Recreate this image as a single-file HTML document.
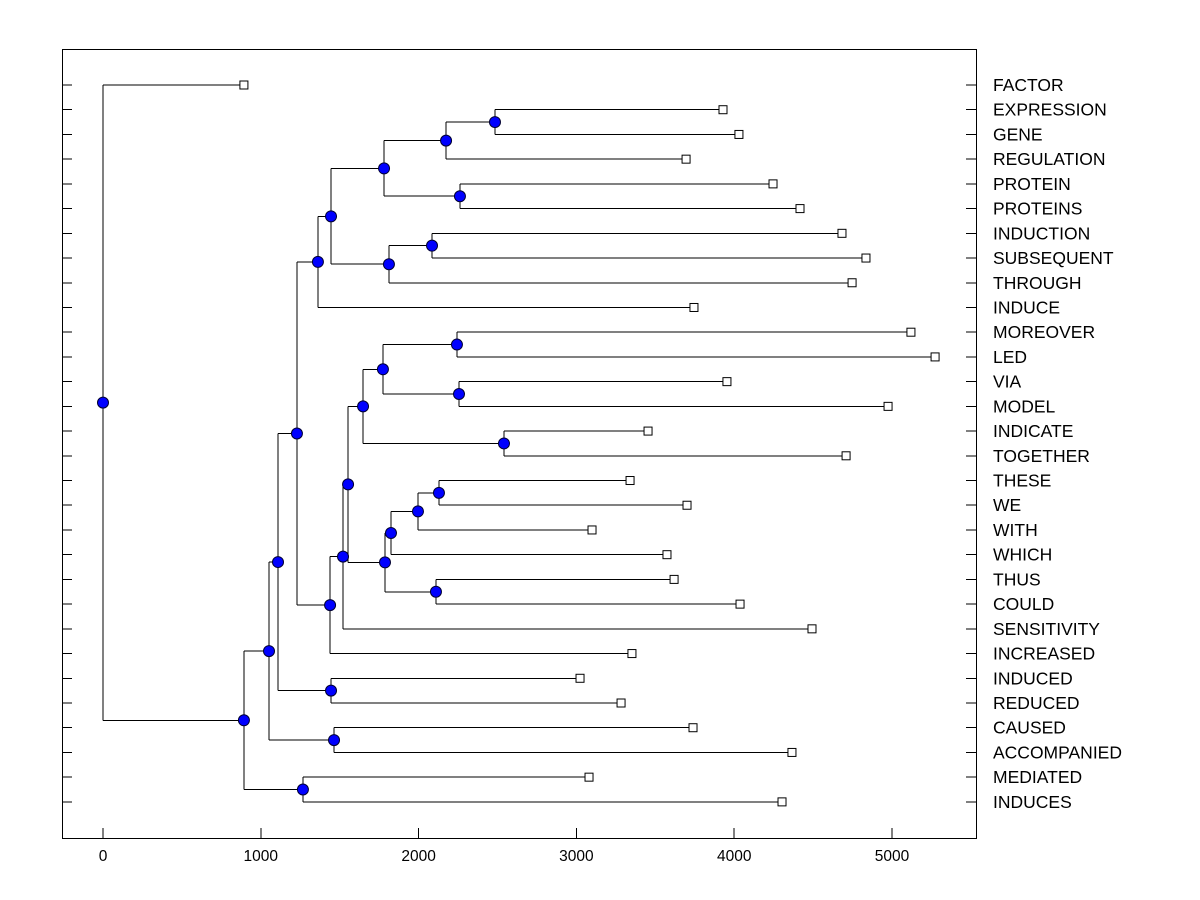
<!DOCTYPE html>
<html><head><meta charset="utf-8"><style>
html,body{margin:0;padding:0;background:#fff;}
svg{display:block;font-family:"Liberation Sans",Arial,sans-serif;}
</style></head><body>
<svg id="chart" width="1200" height="900" viewBox="0 0 1200 900"></svg>
<script>
const labels = ["FACTOR","EXPRESSION","GENE","REGULATION","PROTEIN","PROTEINS","INDUCTION","SUBSEQUENT","THROUGH","INDUCE","MOREOVER","LED","VIA","MODEL","INDICATE","TOGETHER","THESE","WE","WITH","WHICH","THUS","COULD","SENSITIVITY","INCREASED","INDUCED","REDUCED","CAUSED","ACCOMPANIED","MEDIATED","INDUCES"];
const leafValues = [893,3929,4030,3695,4246,4417,4683,4835,4747,3745,5120,5273,3954,4975,3454,4709,3340,3701,3099,3574,3619,4037,4493,3352,3023,3283,3739,4366,3080,4303];
// merges: [childA, childB, height]; "L#" = leaf index, "N#" = merge index
const merges = [
 ["L1","L2",2484],   // N0
 ["N0","L3",2174],   // N1
 ["L4","L5",2262],   // N2
 ["N1","N2",1781],   // N3
 ["L6","L7",2085],   // N4
 ["N4","L8",1812],   // N5
 ["N3","N5",1445],   // N6
 ["N6","L9",1362],   // N7
 ["L10","L11",2243], // N8
 ["L12","L13",2256], // N9
 ["N8","N9",1774],   // N10
 ["L14","L15",2541], // N11
 ["N10","N11",1648], // N12
 ["L16","L17",2129], // N13
 ["N13","L18",1996], // N14
 ["N14","L19",1825], // N15
 ["L20","L21",2110], // N16
 ["N15","N16",1787], // N17
 ["N12","N17",1553], // N18
 ["N18","L22",1521], // N19
 ["N19","L23",1439], // N20
 ["N7","N20",1229],  // N21
 ["L24","L25",1445], // N22
 ["N21","N22",1109], // N23
 ["L26","L27",1464], // N24
 ["N23","N24",1052], // N25
 ["L28","L29",1267], // N26
 ["N25","N26",893],  // N27
 ["L0","N27",0]      // N28 root
];
const xTicks = [0,1000,2000,3000,4000,5000];

const NS="http://www.w3.org/2000/svg";
const svg=document.getElementById('chart');
const X0=103, XS=0.1578, Y0=85, YS=24.72;
const xs=v=>X0+v*XS, ys=i=>Y0+i*YS;
function mk(t,a,p){const e=document.createElementNS(NS,t);for(const k in a)e.setAttribute(k,a[k]);(p||svg).appendChild(e);return e;}

const frame=mk('rect',{x:62.5,y:49.5,width:914,height:789,fill:'none',stroke:'#000','stroke-width':1});



const gLines=mk('g',{stroke:'#000','stroke-width':1,fill:'none','shape-rendering':'crispEdges'});


const gMarks=mk('g',{});



labels.forEach((lab,i)=>{
  const y=ys(i);
  mk('line',{x1:62,x2:72,y1:y,y2:y},gLines);
  mk('line',{x1:966,x2:976,y1:y,y2:y},gLines);
  const t=mk('text',{x:993,y:y+6,'font-size':17.5,fill:'#000'});
  t.textContent=lab;
  
  
});
xTicks.forEach(v=>{
  const x=xs(v);
  mk('line',{x1:x,x2:x,y1:828,y2:838},gLines);
  const t=mk('text',{x:x,y:861,'font-size':15.5,'text-anchor':'middle',fill:'#000'});
  t.textContent=v;
  
  
});

const pos={};
function get(id){
  if(pos[id])return pos[id];
  if(id[0]==='L'){const i=+id.slice(1);pos[id]={x:xs(leafValues[i]),y:ys(i)};}
  else{const m=merges[+id.slice(1)];const a=get(m[0]),b=get(m[1]);pos[id]={x:xs(m[2]),y:(a.y+b.y)/2,a,b};}
  return pos[id];
}
merges.forEach((m,k)=>{
  const p=get('N'+k);
  mk('line',{x1:p.x,x2:p.x,y1:p.a.y,y2:p.b.y},gLines);
  mk('line',{x1:p.x,x2:p.a.x,y1:p.a.y,y2:p.a.y},gLines);
  mk('line',{x1:p.x,x2:p.b.x,y1:p.b.y,y2:p.b.y},gLines);
});
labels.forEach((lab,i)=>{
  const p=get('L'+i);
  const r=mk('rect',{x:p.x-4,y:p.y-4,width:8,height:8,fill:'#fff',stroke:'#000','stroke-width':1},gMarks);
  
  
});
merges.forEach((m,k)=>{
  const p=get('N'+k);
  const c=mk('circle',{cx:p.x,cy:p.y,r:5.5,fill:'#0000ff',stroke:'#000033','stroke-width':1},gMarks);
  
  
});
</script>
</body></html>
